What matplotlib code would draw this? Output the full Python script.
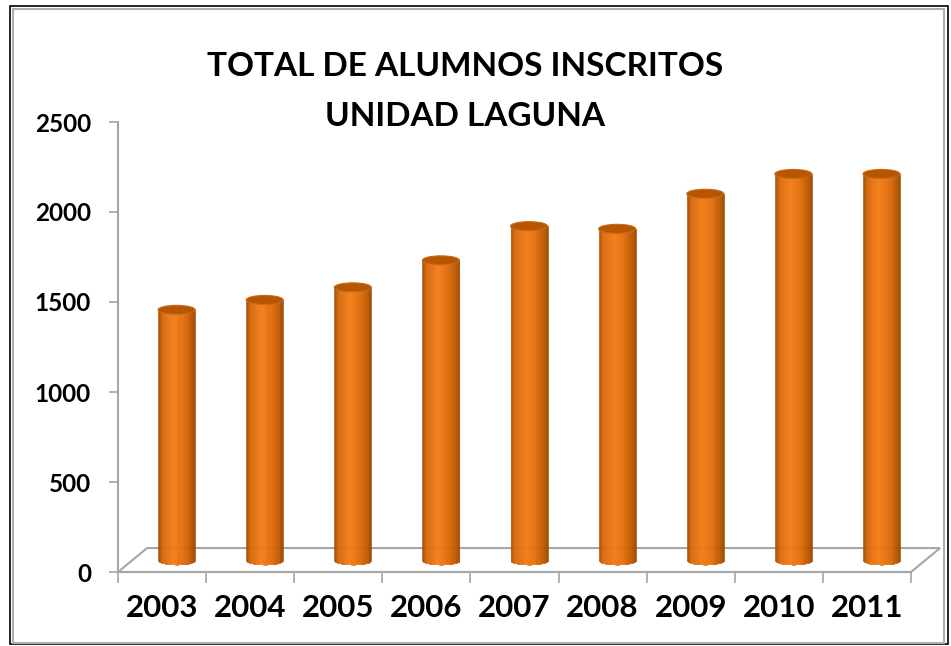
#!/usr/bin/env python3
import numpy as np
import matplotlib
matplotlib.use("Agg")
import matplotlib.pyplot as plt
from matplotlib.collections import PolyCollection
from matplotlib.patches import Ellipse, Polygon, Rectangle
from matplotlib.colors import LinearSegmentedColormap

years = ["2003", "2004", "2005", "2006", "2007", "2008", "2009", "2010", "2011"]
alumnos = [1390, 1445, 1515, 1665, 1855, 1840, 2035, 2145, 2145]
title_lines = ["TOTAL DE ALUMNOS INSCRITOS", "UNIDAD LAGUNA"]
y_ticks = [0, 500, 1000, 1500, 2000, 2500]

FONT = ["Lato", "DejaVu Sans"]
GRAY = "#a6a6a6"

# 3d look: depth of the floor (data units), bar width, cap half height
depth_x, depth_y = 0.33, 133
bar_w = 0.42
cap_b = 25

body_cmap = LinearSegmentedColormap.from_list(
    "cyl", [(0.0, "#9c4a00"), (0.12, "#d8680a"), (0.42, "#f47c14"),
            (0.7, "#e06a08"), (0.9, "#bb5600"), (1.0, "#9a4600")])

fig = plt.figure(figsize=(9.51, 6.46), dpi=100)
ax = fig.add_axes([118 / 951, 74 / 646, 793 / 951, 450 / 646])

n = len(years)
x = np.arange(n)
ax.set_xlim(-0.5, n - 0.5)
ax.set_ylim(0, 2500)

# floor
floor = Polygon([(-0.5, 0), (n - 0.5, 0), (n - 0.5 + depth_x, depth_y),
                 (-0.5 + depth_x, depth_y)], closed=True, facecolor="white",
                edgecolor=GRAY, lw=1.5, clip_on=False, zorder=1)
ax.add_patch(floor)

# cylinders
base = depth_y / 2
for xi, v in zip(x, alumnos):
    c = xi + depth_x / 2
    edges = np.linspace(c - bar_w / 2, c + bar_w / 2, 41)
    polys, cols = [], []
    for k in range(40):
        xl, xr = edges[k], edges[k + 1]
        xm = (xl + xr) / 2
        u = (xm - c) / (bar_w / 2)
        yb = base - cap_b * np.sqrt(max(0.0, 1 - u * u))
        polys.append([(xl, yb), (xr, yb), (xr, base + v), (xl, base + v)])
        cols.append(body_cmap((k + 0.5) / 40))
    pc = PolyCollection(polys, facecolors=cols, edgecolors=cols, linewidths=0.4,
                        zorder=3, clip_on=False)
    ax.add_collection(pc)
    ax.add_patch(Ellipse((c, base + v), bar_w, 2 * cap_b, facecolor="#b65600",
                         edgecolor="#c86a18", lw=0.8, zorder=4, clip_on=False))

# axes styling
for s in ["top", "right"]:
    ax.spines[s].set_visible(False)
for s in ["left", "bottom"]:
    ax.spines[s].set_color(GRAY)
    ax.spines[s].set_linewidth(1.5)
    ax.spines[s].set_zorder(2)

ax.set_yticks(y_ticks)
ax.set_yticklabels([str(t) for t in y_ticks], fontsize=17.5, fontweight="bold",
                   family=FONT)
ax.tick_params(axis="y", length=6.5, width=1.2, color=GRAY, pad=13)

ax.set_xticks(np.arange(-0.5, n, 1.0))
ax.set_xticklabels([])
ax.set_xticks(x, minor=True)
ax.set_xticklabels(years, minor=True, fontsize=22.5, fontweight="bold", family=FONT)
ax.tick_params(axis="x", which="major", length=8, width=1.2, color=GRAY)
ax.tick_params(axis="x", which="minor", length=0, pad=16)

fig.text(465 / 951, 1 - 67 / 646, title_lines[0], ha="center", va="center",
         fontsize=24, fontweight="bold", family=FONT)
fig.text(465 / 951, 1 - 117 / 646, title_lines[1], ha="center", va="center",
         fontsize=24, fontweight="bold", family=FONT)

# outer frame
fig.add_artist(Rectangle((9.5 / 951, 2 / 646), 938 / 951, 638.5 / 646,
                         transform=fig.transFigure, fill=False,
                         edgecolor="black", lw=1.2))
fig.add_artist(Rectangle((13 / 951, 3 / 646), 931 / 951, 634 / 646,
                         transform=fig.transFigure, fill=False,
                         edgecolor="#b0b0b0", lw=1.5))

fig.savefig("out.png", dpi=100)
